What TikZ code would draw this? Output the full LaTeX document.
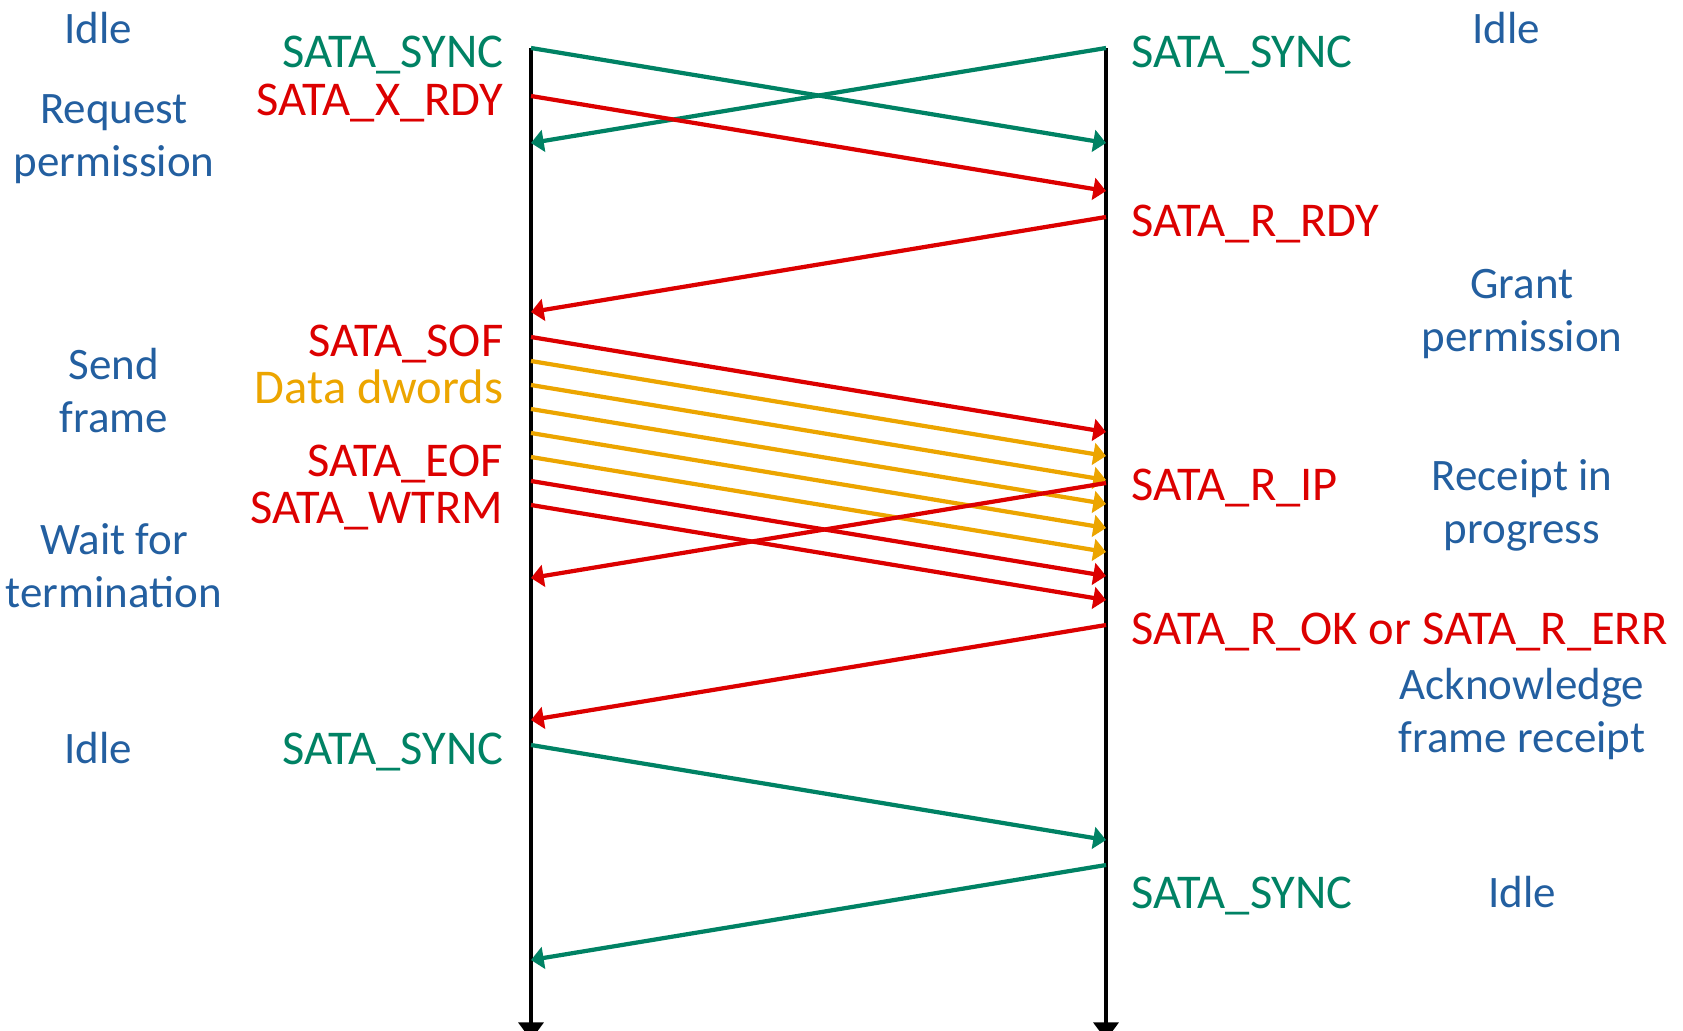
\documentclass[tikz,border=0pt]{standalone}
\usepackage{fontspec}
\setmainfont{Carlito}
\usetikzlibrary{arrows.meta}
\definecolor{syncgreen}{RGB}{0,130,100}
\definecolor{ctrlred}{RGB}{220,0,0}
\definecolor{dataamber}{RGB}{236,165,0}
\definecolor{phaseblue}{RGB}{35,95,160}

\begin{document}
\begin{tikzpicture}[x=0.01cm, y=-0.01cm,
  lifeline/.style={line width=1.4pt, -{Triangle[length=5pt, width=7pt]}},
  msg/.style={line width=1.2pt, -{Triangle[length=3.6pt, width=6.2pt]}},
  sig/.style={inner sep=0pt, font=\fontsize{13.8}{15}\selectfont},
  phase/.style={inner sep=0pt, align=center, anchor=base, text=phaseblue,
    font=\fontsize{12.8}{14.8}\selectfont}]
\useasboundingbox (0,0) rectangle (1683,1030);

% Host and device time lines
\coordinate (hostTop) at (531,48);
\coordinate (hostEnd) at (531,1040);
\coordinate (devTop) at (1106,48);
\coordinate (devEnd) at (1106,1040);
\draw[lifeline] (hostTop) -- (hostEnd);
\draw[lifeline] (devTop) -- (devEnd);

% Idle: sync both ways
\coordinate (hSync) at (531,48);   \coordinate (dSyncIn) at (1106,143);
\coordinate (dSync) at (1106,48);  \coordinate (hSyncIn) at (531,143);
\draw[msg, syncgreen] (hSync) -- (dSyncIn);
\draw[msg, syncgreen] (dSync) -- (hSyncIn);

% Handshake
\coordinate (hXrdy) at (531,96);   \coordinate (dXrdyIn) at (1106,191);
\coordinate (dRrdy) at (1106,217); \coordinate (hRrdyIn) at (531,312);
\draw[msg, ctrlred] (hXrdy) -- (dXrdyIn);
\draw[msg, ctrlred] (dRrdy) -- (hRrdyIn);

% Frame
\coordinate (hSof) at (531,337);   \coordinate (dSofIn) at (1106,432);
\draw[msg, ctrlred] (hSof) -- (dSofIn);
\foreach \k in {1,...,5} {
  \coordinate (hData\k) at (531,{337+24*\k});
  \coordinate (dData\k) at (1106,{432+24*\k});
  \draw[msg, dataamber] (hData\k) -- (dData\k);
}
\coordinate (hEof) at (531,481);   \coordinate (dEofIn) at (1106,576);
\coordinate (hWtrm) at (531,505);  \coordinate (dWtrmIn) at (1106,600);
\coordinate (dRip) at (1106,483);  \coordinate (hRipIn) at (531,578);
\draw[msg, ctrlred] (dRip) -- (hRipIn);
\draw[msg, ctrlred] (hEof) -- (dEofIn);
\draw[msg, ctrlred] (hWtrm) -- (dWtrmIn);

% Status and back to idle
\coordinate (dRok) at (1106,625);  \coordinate (hRokIn) at (531,720);
\coordinate (hSync2) at (531,745); \coordinate (dSync2In) at (1106,840);
\coordinate (dSync2) at (1106,865); \coordinate (hSync2In) at (531,960);
\draw[msg, ctrlred] (dRok) -- (hRokIn);
\draw[msg, syncgreen] (hSync2) -- (dSync2In);
\draw[msg, syncgreen] (dSync2) -- (hSync2In);

% Host primitives
\node[sig, anchor=base east, text=syncgreen] (hSyncTxt) at (504,67) {SATA\_SYNC};
\node[sig, anchor=base east, text=ctrlred] (hXrdyTxt) at (504,115) {SATA\_X\_RDY};
\node[sig, anchor=base east, text=ctrlred] (hSofTxt) at (504,356) {SATA\_SOF};
\node[sig, anchor=base east, text=dataamber] (hDataTxt) at (504,403) {Data dwords};
\node[sig, anchor=base east, text=ctrlred] (hEofTxt) at (504,476) {SATA\_EOF};
\node[sig, anchor=base east, text=ctrlred] (hWtrmTxt) at (504,523) {SATA\_WTRM};
\node[sig, anchor=base east, text=syncgreen] (hSync2Txt) at (504,764) {SATA\_SYNC};

% Device primitives
\node[sig, anchor=base west, text=syncgreen] (dSyncTxt) at (1131,67) {SATA\_SYNC};
\node[sig, anchor=base west, text=ctrlred] (dRrdyTxt) at (1131,236) {SATA\_R\_RDY};
\node[sig, anchor=base west, text=ctrlred] (dRipTxt) at (1131,500) {SATA\_R\_IP};
\node[sig, anchor=base west, text=ctrlred] (dRokTxt) at (1131,644) {SATA\_R\_OK or SATA\_R\_ERR};
\node[sig, anchor=base west, text=syncgreen] (dSync2Txt) at (1131,908) {SATA\_SYNC};

% Phases (base is the last line)
\node[phase] (hIdle) at (98,43) {Idle};
\node[phase] (hRequest) at (114,176) {Request\\permission};
\node[phase] (hSend) at (114,432) {Send\\frame};
\node[phase] (hWait) at (114,607) {Wait for\\termination};
\node[phase] (hIdle2) at (98,763) {Idle};
\node[phase] (dIdle) at (1506,43) {Idle};
\node[phase] (dGrant) at (1522,351) {Grant\\permission};
\node[phase] (dReceipt) at (1522,543) {Receipt in\\progress};
\node[phase] (dAck) at (1522,752) {Acknowledge\\frame receipt};
\node[phase] (dIdle2) at (1522,907) {Idle};
\end{tikzpicture}
\end{document}
